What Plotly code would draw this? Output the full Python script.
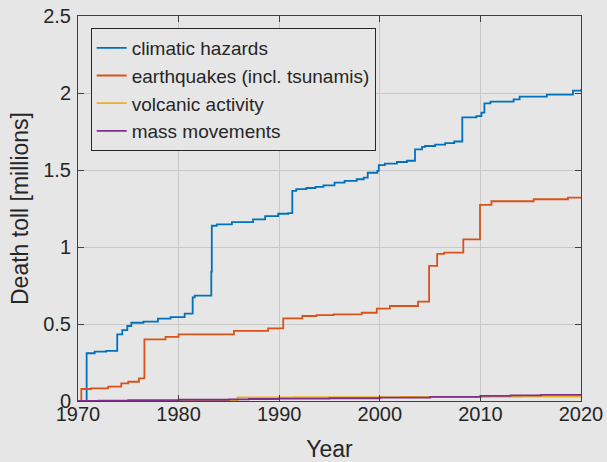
import plotly.graph_objects as go

# ---- data (cumulative death toll, millions) ----
climatic_years = [1970, 1970.86, 1971.66, 1972.8, 1973.9, 1974.4, 1974.9, 1975.3, 1976.5, 1977.95,
                  1979.2, 1980.6, 1981.4, 1981.6, 1983.25, 1983.3, 1983.8, 1985.3, 1987.4, 1988.6,
                  1989.9, 1990.9, 1991.3, 1991.7, 1992.7, 1993.6, 1994.4, 1995.5, 1996.5, 1997.7,
                  1998.4, 1998.8, 1999.75, 1999.9, 2000.5, 2001.7, 2002.7, 2003.5, 2004.2, 2004.5,
                  2005.5, 2006.5, 2007.4, 2008.2, 2009.6, 2010.1, 2010.4, 2011.0, 2013.3, 2013.9,
                  2016.6, 2019.2, 2020]
climatic_vals = [0, 0.31, 0.32, 0.325, 0.433, 0.46, 0.487, 0.508, 0.515, 0.535,
                 0.545, 0.567, 0.673, 0.684, 0.84, 1.138, 1.147, 1.162, 1.18, 1.2,
                 1.216, 1.22, 1.365, 1.376, 1.383, 1.39, 1.40, 1.418, 1.43, 1.44,
                 1.45, 1.482, 1.494, 1.532, 1.541, 1.552, 1.56, 1.634, 1.65, 1.656,
                 1.665, 1.675, 1.685, 1.842, 1.85, 1.872, 1.933, 1.944, 1.959, 1.976,
                 1.99, 2.015, 2.024]

quake_years = [1970, 1970.33, 1971.3, 1973, 1974.3, 1975, 1976.06, 1976.6, 1978.7, 1980,
               1985.5, 1988.9, 1990.4, 1992.3, 1993.7, 1995.4, 1998.2, 1999.7, 2001, 2003.8,
               2004.9, 2005.7, 2006.4, 2008.3, 2009.96, 2011.1, 2015.3, 2018.7, 2020]
quake_vals = [0, 0.078, 0.082, 0.093, 0.115, 0.125, 0.147, 0.40, 0.417, 0.433,
              0.455, 0.472, 0.537, 0.552, 0.558, 0.563, 0.573, 0.60, 0.617, 0.645,
              0.877, 0.955, 0.963, 1.05, 1.273, 1.297, 1.31, 1.32, 1.32]

volcanic_years = [1970, 1977, 1982.2, 1985.85, 1991.5, 2002, 2010.8, 2014, 2020]
volcanic_vals = [0, 0.001, 0.003, 0.024, 0.025, 0.026, 0.027, 0.028, 0.028]

mass_years = [1970, 1972, 1975, 1980, 1985, 1987, 1990, 1995, 2000, 2005, 2010, 2013, 2016, 2020]
mass_vals = [0, 0.002, 0.005, 0.008, 0.011, 0.013, 0.015, 0.018, 0.022, 0.027, 0.033, 0.037, 0.040, 0.044]

series_names = ["climatic hazards", "earthquakes (incl. tsunamis)", "volcanic activity", "mass movements"]
series_colors = ["#0072BD", "#D95319", "#EDB120", "#7E2F8E"]

x_ticks = [1970, 1980, 1990, 2000, 2010, 2020]
y_ticks = [0, 0.5, 1, 1.5, 2, 2.5]
y_tick_text = ["0", "0.5", "1", "1.5", "2", "2.5"]

FONT = "Liberation Sans, Arial, Helvetica, sans-serif"
BG = "#e6e6e6"
AX = "#262626"

fig = go.Figure()
for xs, ys, name, col in zip(
        [climatic_years, quake_years, volcanic_years, mass_years],
        [climatic_vals, quake_vals, volcanic_vals, mass_vals],
        series_names, series_colors):
    fig.add_trace(go.Scatter(x=xs, y=ys, name=name, mode="lines",
                             line=dict(color=col, width=1.8, shape="hv")))

axis_common = dict(
    showline=True, linecolor="#404040", linewidth=1, mirror="allticks",
    ticks="inside", ticklen=6, tickcolor="#404040", tickwidth=1,
    showgrid=True, gridcolor="#c8c8c8", gridwidth=1, zeroline=False,
    tickfont=dict(family=FONT, size=20, color=AX),
)

fig.update_xaxes(range=[1970, 2020], tickvals=x_ticks, ticktext=[str(t) for t in x_ticks],
                 title=dict(text="Year", font=dict(family=FONT, size=23, color=AX), standoff=17),
                 ticklabelstandoff=-5, **axis_common)
fig.update_yaxes(range=[0, 2.5], tickvals=y_ticks, ticktext=y_tick_text,
                 title=dict(text="Death toll [millions]", font=dict(family=FONT, size=23, color=AX), standoff=8),
                 ticklabelstandoff=2, **axis_common)

fig.update_layout(
    width=607, height=462,
    margin=dict(l=78, r=26, t=16, b=61, autoexpand=False),
    paper_bgcolor=BG, plot_bgcolor=BG,
    font=dict(family=FONT, color=AX),
    showlegend=True,
    legend=dict(x=0.0252, y=0.969, xanchor="left", yanchor="top",
                bgcolor=BG, bordercolor=AX, borderwidth=1,
                font=dict(family=FONT, size=19, color=AX),
                tracegroupgap=0),
)

fig.write_html("out.html", config={"displayModeBar": False},
               post_script="document.body.style.margin='0';document.body.style.background='#e6e6e6';")
